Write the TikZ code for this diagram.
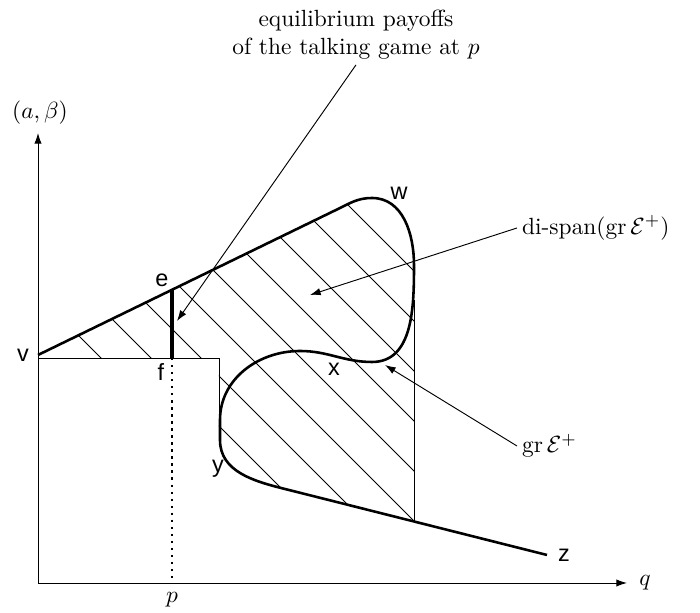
\documentclass[tikz,border=0pt]{standalone}
\usepackage{fontspec}
\setsansfont{Liberation Sans}
\usetikzlibrary{arrows.meta}
\tikzset{
  thickln/.style={line width=1.1pt, line join=round},
  thinln/.style={line width=0.4pt},
  hatchln/.style={line width=0.35pt},
  barln/.style={line width=1.8pt},
  arr/.style={-{Latex[length=1.6mm, width=1.1mm]}, line width=0.4pt},
  ptlbl/.style={font=\sffamily, inner sep=1pt},
  lbl/.style={align=center, inner sep=2pt}
}

\begin{document}
\begin{tikzpicture}[x=0.015cm, y=-0.015cm]
  \useasboundingbox (0,0) rectangle (700,613);
  % axes
  \coordinate (o) at (38,583);
  \coordinate (ytop) at (38,133);
  \coordinate (xend) at (627,583);
  \draw[arr] (o) -- (ytop);
  \draw[arr] (o) -- (xend);
  \node (ylab) at (40,113) {$(a,\beta)$};
  \node (xlab) at (645,583) {$q$};

  % hatched di-span
  \begin{scope}
    \clip (38,355) -- (338,209) to[out=26,in=180] (372,198) to[out=0,in=90] (414,265)
      -- (414,521) -- (285,489) to[out=166,in=-90] (219,440) -- (219,358) -- (38,358) -- cycle;
    \foreach \c in {-257,-207,...,243}
      \draw[hatchln] (\c+150,150) -- (\c+600,600);
  \end{scope}
  \draw[thinln] (38,358) -- (219,358) -- (219,430);
  \draw[thinln] (414,300) -- (414,521);

  % graph of E+
  \coordinate (v) at (38,355);
  \coordinate (pz) at (547,555);
  \draw[thickln] (v) -- (338,209) to[out=26,in=180] (372,198) to[out=0,in=90] (414,265)
    to[out=-90,in=0] (372,362) to[out=180,in=0] (300,351) to[out=180,in=90] (220,420)
    -- (220,440) to[out=-90,in=166] (285,489) -- (pz);

  % payoffs at p
  \coordinate (pe) at (172,290);
  \coordinate (pf) at (172,358);
  \coordinate (pp) at (172,583);
  \draw[barln] (pe) -- (pf);
  \draw[dotted, line width=1pt] (pf) -- (pp);
  \node (lp) at (172,600) {$p$};

  \node[ptlbl] (lv) at (23,355) {v};
  \node[ptlbl] (le) at (162,280) {e};
  \node[ptlbl] (lf) at (161,372) {f};
  \node[ptlbl] (lw) at (399,193) {w};
  \node[ptlbl] (lx) at (334,369) {x};
  \node[ptlbl] (ly) at (218,469) {y};
  \node[ptlbl] (lz) at (564,555) {z};

  % annotations
  \node[lbl] (eqtxt) at (356,35) {equilibrium payoffs\\of the talking game at $p$};
  \coordinate (tipeq) at (177,321);
  \draw[arr] (eqtxt.south) -- (tipeq);
  \node[lbl, anchor=west] (dspan) at (517,228) {di-span$(\mathrm{gr}\,\mathcal{E}^+)$};
  \coordinate (tipds) at (310,295);
  \draw[arr] (dspan.west) -- (tipds);
  \node[lbl, anchor=west] (gre) at (517,446) {$\mathrm{gr}\,\mathcal{E}^+$};
  \coordinate (tipgr) at (385,365);
  \draw[arr] (gre.west) -- (tipgr);
\end{tikzpicture}
\end{document}
